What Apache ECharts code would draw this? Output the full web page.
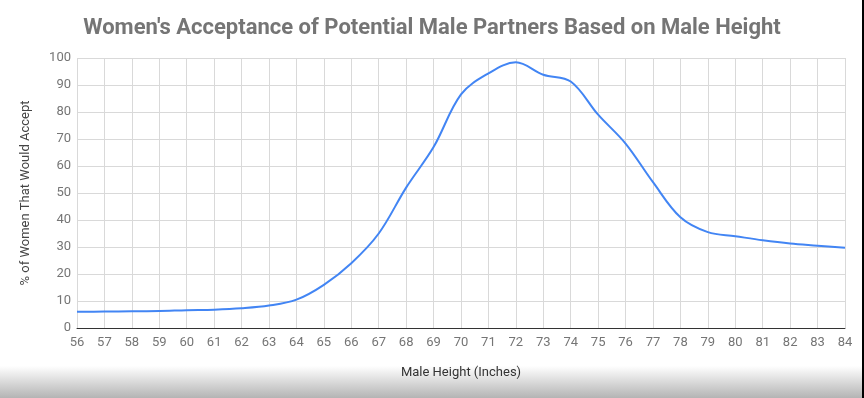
<!DOCTYPE html>
<html>
<head>
<meta charset="utf-8">
<script src="https://cdn.jsdelivr.net/npm/echarts@6/dist/echarts.min.js"></script>
<style>
html,body{margin:0;padding:0;background:#fff;}
#c{width:864px;height:398px;}
</style>
</head>
<body>
<div id="c"></div>
<script>
const heights = [56,57,58,59,60,61,62,63,64,65,66,67,68,69,70,71,72,73,74,75,76,77,78,79,80,81,82,83,84];
const acceptance = [6,6.1,6.2,6.3,6.6,6.8,7.3,8.3,10.5,16,24,35,52,67,86.5,94.3,98.4,93.8,91.3,79,68.3,54,41,35.5,34,32.5,31.3,30.5,29.7];
const yTicks = [0,10,20,30,40,50,60,70,80,90,100];

const chart = echarts.init(document.getElementById('c'), null, {renderer:'canvas'});
const fontFamily = 'Roboto, "Noto Sans", sans-serif';
chart.setOption({
  animation:false,
  backgroundColor:'#ffffff',
  title:{
    text:"Women's Acceptance of Potential Male Partners Based on Male Height",
    left:'center', top:12,
    textStyle:{fontFamily, fontWeight:'bold', fontSize:22, color:'#757575'}
  },
  grid:{left:77, right:19, top:58, bottom:70, containLabel:false},
  xAxis:{
    type:'value', min:heights[0], max:heights[heights.length-1], interval:1,
    name:'Male Height (Inches)', nameLocation:'middle', nameGap:38,
    nameTextStyle:{fontFamily, fontSize:13, color:'#333'},
    axisLine:{show:true, lineStyle:{color:'#333', width:1}},
    axisTick:{show:false},
    axisLabel:{fontFamily, fontSize:13, color:'#757575', margin:8},
    splitLine:{show:true, lineStyle:{color:'#d9d9d9', width:1}}
  },
  yAxis:{
    type:'value', min:yTicks[0], max:yTicks[yTicks.length-1], interval:10,
    name:'% of Women That Would Accept', nameLocation:'middle', nameGap:45,
    nameTextStyle:{fontFamily, fontSize:13, color:'#444'},
    axisLine:{show:false}, axisTick:{show:false},
    axisLabel:{fontFamily, fontSize:13, color:'#757575', margin:6},
    splitLine:{show:true, lineStyle:{color:'#d9d9d9', width:1}}
  },
  graphic:[
    {type:'rect', left:0, top:366, shape:{width:864, height:32}, z:-1,
     style:{fill:new echarts.graphic.LinearGradient(0,0,0,1,[{offset:0,color:'rgba(255,255,255,1)'},{offset:1,color:'rgba(180,180,180,1)'}])}},
    {type:'rect', left:862, top:0, shape:{width:2, height:398}, style:{fill:'#000'}}
  ],
  series:[{
    type:'line', smooth:0.35, showSymbol:false,
    data: heights.map((h,i)=>[h, acceptance[i]]),
    lineStyle:{color:'#4285F4', width:2},
    itemStyle:{color:'#4285F4'}
  }]
});
</script>
</body>
</html>
